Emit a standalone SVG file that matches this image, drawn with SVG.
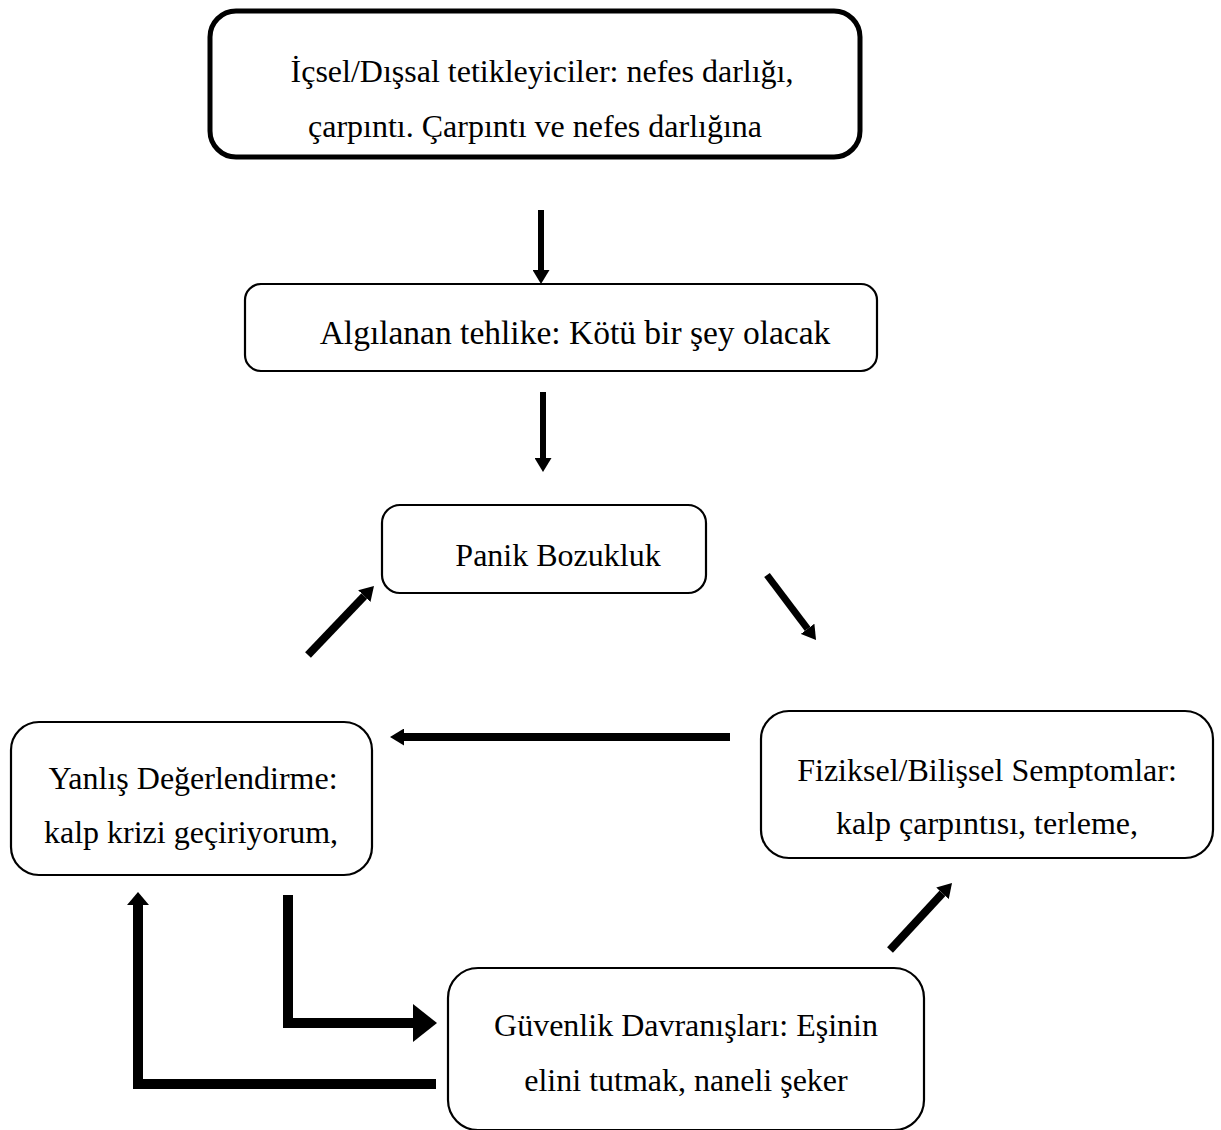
<svg xmlns="http://www.w3.org/2000/svg" width="1221" height="1130" viewBox="0 0 1221 1130">
<style>
.box{fill:#fff;stroke:#000;stroke-width:2.2}
.box.thick{stroke-width:5}
text{font-family:"Liberation Serif","Times New Roman",serif;font-size:32px;fill:#000;text-anchor:middle}
.sh{fill:none;stroke:#000;stroke-linecap:butt;stroke-linejoin:miter}
</style>
<defs>
<marker id="sm" markerUnits="userSpaceOnUse" markerWidth="14" markerHeight="17" refX="0" refY="8.5" orient="auto" viewBox="0 0 14 17">
<path d="M0,0 L14,8.5 L0,17 z" fill="#000"/>
</marker>
<marker id="lg" markerUnits="userSpaceOnUse" markerWidth="24" markerHeight="38" refX="0" refY="19" orient="auto" viewBox="0 0 24 38">
<path d="M0,0 L24,19 L0,38 z" fill="#000"/>
</marker>
<marker id="up" markerUnits="userSpaceOnUse" markerWidth="13" markerHeight="22" refX="0" refY="11" orient="auto" viewBox="0 0 13 22">
<path d="M0,0 L13,11 L0,22 z" fill="#000"/>
</marker>
</defs>
<g id="connectors">
<path class="sh" d="M541,210 V270" stroke-width="6" marker-end="url(#sm)"/>
<path class="sh" d="M543,392 V458" stroke-width="6" marker-end="url(#sm)"/>
<path class="sh" d="M308,655 L364.3,596.1" stroke-width="8" marker-end="url(#sm)"/>
<path class="sh" d="M767,575 L807.6,628.8" stroke-width="7" marker-end="url(#sm)"/>
<path class="sh" d="M730,737 H404" stroke-width="8" marker-end="url(#sm)"/>
<path class="sh" d="M890,950 L942.5,893.3" stroke-width="8" marker-end="url(#sm)"/>
<path class="sh" d="M288,895 V1023 H413" stroke-width="10" marker-end="url(#lg)"/>
<path class="sh" d="M436,1084 H138 V905" stroke-width="10" marker-end="url(#up)"/>
</g>
<g id="node-tetikleyiciler">
<rect class="box thick" x="210" y="11" width="650" height="146" rx="26"/>
<text x="542" y="82">İçsel/Dışsal tetikleyiciler: nefes darlığı,</text>
<text x="535" y="137">çarpıntı. Çarpıntı ve nefes darlığına</text>
</g>
<g id="node-tehlike">
<rect class="box" x="245" y="284" width="632" height="87" rx="16"/>
<text x="575" y="344" style="font-size:33.5px">Algılanan tehlike: Kötü bir şey olacak</text>
</g>
<g id="node-panik">
<rect class="box" x="382" y="505" width="324" height="88" rx="18"/>
<text x="558" y="566">Panik Bozukluk</text>
</g>
<g id="node-yanlis">
<rect class="box" x="11" y="722" width="361" height="153" rx="28"/>
<text x="193" y="789">Yanlış Değerlendirme:</text>
<text x="191" y="843">kalp krizi geçiriyorum,</text>
</g>
<g id="node-fiziksel">
<rect class="box" x="761" y="711" width="452" height="147" rx="28"/>
<text x="987" y="781">Fiziksel/Bilişsel Semptomlar:</text>
<text x="987" y="834">kalp çarpıntısı, terleme,</text>
</g>
<g id="node-guvenlik">
<rect class="box" x="448" y="968" width="476" height="162" rx="30"/>
<text x="686" y="1036">Güvenlik Davranışları: Eşinin</text>
<text x="686" y="1091">elini tutmak, naneli şeker</text>
</g>
</svg>
